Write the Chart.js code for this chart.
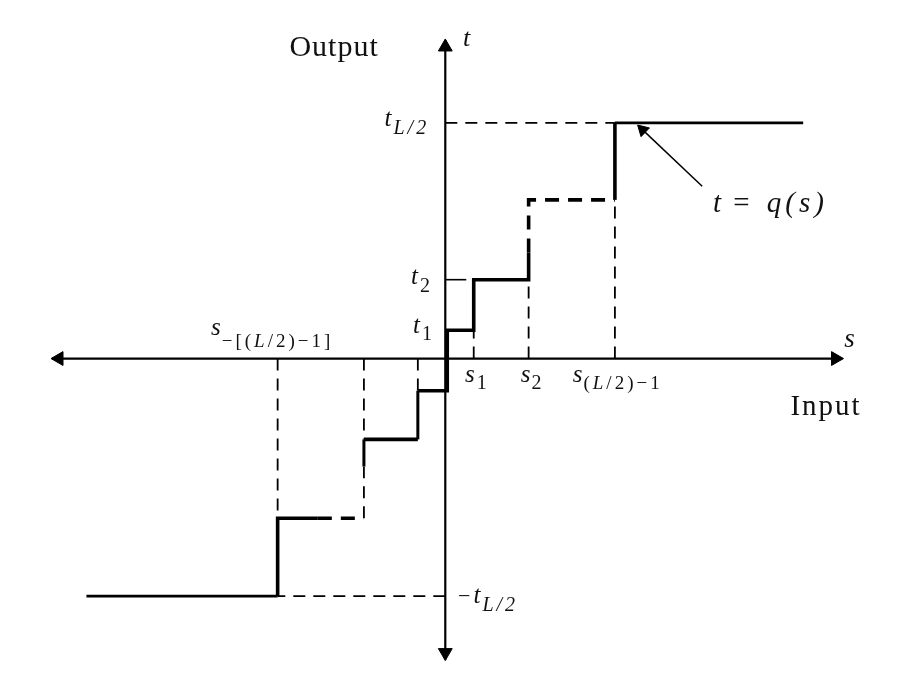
<!DOCTYPE html>
<html><head><meta charset="utf-8">
<script src="https://cdn.jsdelivr.net/npm/chart.js@4.4.0/dist/chart.umd.min.js"></script>
<style>html,body{margin:0;padding:0;background:#fff;} canvas{display:block;}</style>
</head><body>
<canvas id="c" width="920" height="684"></canvas>
<script>
// ---- data (schematic units: input s on x, output t on y) ----
// decision thresholds s_-[(L/2)-1] ... s_(L/2)-1
const thresholds = [-171, -83, -28, 2, 29, 85, 173];
// reconstruction levels -t_L/2 ... t_L/2
const levels = [-244, -164, -83, -33, 29, 81, 163, 242];
// extent of the drawn input range
const inputEnds = [-366, 365];
// points where the drawing of the staircase switches between solid and dashed (omitted steps)
const breakLowLevelX = -130;   // on level levels[1]
const breakLowRiserY = -111;   // on riser at thresholds[1]
const breakHighRiserY = 109;   // on riser at thresholds[5]
// axis extents (arrow tips)
const sAxis = [-401, 405];
const tAxis = [-309, 327];
// annotation arrow t = q(s)
const annotFrom = {x: 262, y: 177};
const annotTo = {x: 197, y: 239};

// ---- build staircase ----
const stair = [{x: inputEnds[0], y: levels[0]}];
for (let i = 0; i < thresholds.length; i++) {
  stair.push({x: thresholds[i], y: levels[i]});
  if (i === 1) stair.push({x: thresholds[i], y: breakLowRiserY});
  if (i === 5) stair.push({x: thresholds[i], y: breakHighRiserY});
  stair.push({x: thresholds[i], y: levels[i + 1]});
  if (i === 0) stair.push({x: breakLowLevelX, y: levels[1]});
}
stair.push({x: inputEnds[1], y: levels[levels.length - 1]});

// segment styles along the staircase
const W = {solid3: [2.6, []], solid4: [3.6, []], riser3: [3.0, []], dashT: [3.6, [14, 9]], dashThin: [1.8, [12, 8]]};
const segStyle = ['solid3','solid4','solid4','dashT','dashThin','riser3','solid4','riser3','solid4','solid4',
                  'solid4','solid4','solid4','solid4','dashT','dashT','solid4','solid3'];

const GUIDE_DASH = [12, 8];
const datasets = [];
// vertical guides from the s axis up/down to the nearest level
thresholds.forEach((s, i) => {
  if (i === 3) return; // threshold sits on the t axis
  const lvl = s < 0 ? levels[i + 1] : levels[i];
  datasets.push({data: [{x: s, y: 0}, {x: s, y: lvl}], borderWidth: 1.8, borderDash: GUIDE_DASH});
});
// horizontal guides
datasets.push({data: [{x: 0, y: levels[7]}, {x: thresholds[6], y: levels[7]}], borderWidth: 1.8, borderDash: GUIDE_DASH});
datasets.push({data: [{x: 0, y: levels[0]}, {x: thresholds[0], y: levels[0]}], borderWidth: 1.8, borderDash: GUIDE_DASH});
datasets.push({data: [{x: 0, y: levels[5]}, {x: thresholds[4], y: levels[5]}], borderWidth: 1.6, borderDash: [21, 20]});
// axes
datasets.push({data: [{x: sAxis[0], y: 0}, {x: sAxis[1], y: 0}], borderWidth: 2.2});
datasets.push({data: [{x: 0, y: tAxis[0]}, {x: 0, y: tAxis[1]}], borderWidth: 2.2});
// staircase t = q(s)
datasets.push({
  data: stair, borderWidth: 3.6, borderJoinStyle: 'miter',
  segment: {
    borderWidth: c => W[segStyle[c.p0DataIndex]][0],
    borderDash: c => W[segStyle[c.p0DataIndex]][1]
  }
});
// annotation arrow line
datasets.push({data: [annotFrom, annotTo], borderWidth: 1.5});
// arrowheads
const ux = annotTo.x - annotFrom.x, uy = annotTo.y - annotFrom.y, ul = Math.hypot(ux, uy);
const rot = Math.atan2(ux, uy) * 180 / Math.PI;
datasets.push({
  showLine: false,
  data: [{x: sAxis[1] - 7, y: 0}, {x: sAxis[0] + 7, y: 0}, {x: 0, y: tAxis[1] - 7}, {x: 0, y: tAxis[0] + 7},
         {x: annotTo.x - 6 * ux / ul, y: annotTo.y - 6 * uy / ul}],
  pointStyle: 'triangle',
  pointRadius: [8, 8, 8, 8, 7],
  pointRotation: [90, 270, 0, 180, rot],
  pointBackgroundColor: '#000', pointBorderColor: '#000', pointBorderWidth: 1
});
datasets.forEach(d => {
  d.borderColor = d.borderColor || '#000';
  if (d.showLine === undefined) { d.showLine = true; d.pointRadius = 0; }
  d.clip = false;
  d.fill = false;
});

// ---- text labels (anchor = left/baseline, in data units) ----
const FONT = '"Liberation Serif", "Times New Roman", serif';
const texts = [
  {x: -159, y: 311, parts: [{t: 'Output', s: 30, ls: 1}]},
  {x: 18, y: 321, parts: [{t: 't', s: 26, i: 1}]},
  {x: -62, y: 239, parts: [{t: 't', s: 25, i: 1}, {t: 'L/2', s: 20, i: 1, dy: 8, dx: 2, ls: 3}]},
  {x: -35, y: 77, parts: [{t: 't', s: 25, i: 1}, {t: '2', s: 20, dy: 8, dx: 2}]},
  {x: -33, y: 26, parts: [{t: 't', s: 25, i: 1}, {t: '1', s: 20, dy: 7, dx: 2}]},
  {x: -239, y: 24, parts: [{t: 's', s: 25, i: 1}, {t: '\u2212[(', s: 19, dy: 12, dx: 1, ls: 3}, {t: 'L', s: 19, i: 1, dy: 12, ls: 3}, {t: '/2)\u22121]', s: 19, dy: 12, ls: 3}]},
  {x: 20, y: -24, parts: [{t: 's', s: 25, i: 1}, {t: '1', s: 20, dy: 7, dx: 2}]},
  {x: 77, y: -24, parts: [{t: 's', s: 25, i: 1}, {t: '2', s: 20, dy: 7, dx: 1}]},
  {x: 130, y: -24, parts: [{t: 's', s: 25, i: 1}, {t: '(', s: 19, dy: 7, dx: 1, ls: 3}, {t: 'L', s: 19, i: 1, dy: 7, ls: 3}, {t: '/2)\u22121', s: 19, dy: 7, ls: 3}]},
  {x: 13, y: -251, parts: [{t: '\u2212', s: 22}, {t: 't', s: 25, i: 1, dx: 3}, {t: 'L/2', s: 20, i: 1, dy: 8, dx: 2, ls: 3}]},
  {x: 273, y: 151, parts: [{t: 't', s: 29, i: 1}, {t: ' = ', s: 29, ls: 5}, {t: 'q(s)', s: 29, i: 1, ls: 4}]},
  {x: 352, y: -58, parts: [{t: 'Input', s: 29, ls: 2}]},
  {x: 407, y: 12, parts: [{t: 's', s: 27, i: 1}]}
];

const textPlugin = {
  id: 'mathText',
  afterDatasetsDraw(chart) {
    const ctx = chart.ctx, xs = chart.scales.x, ys = chart.scales.y;
    ctx.save();
    ctx.fillStyle = '#111';
    ctx.textAlign = 'left';
    ctx.textBaseline = 'alphabetic';
    texts.forEach(l => {
      let cx = xs.getPixelForValue(l.x);
      const by = ys.getPixelForValue(l.y);
      l.parts.forEach(p => {
        ctx.font = (p.i ? 'italic ' : '') + p.s + 'px ' + FONT;
        ctx.letterSpacing = (p.ls || 0) + 'px';
        cx += (p.dx || 0);
        ctx.fillText(p.t, cx, by + (p.dy || 0));
        cx += ctx.measureText(p.t).width;
      });
    });
    ctx.restore();
  }
};

new Chart(document.getElementById('c'), {
  type: 'scatter',
  data: {datasets},
  options: {
    responsive: false, animation: false, devicePixelRatio: 1,
    layout: {padding: 0},
    plugins: {legend: {display: false}, tooltip: {enabled: false}},
    scales: {
      x: {type: 'linear', display: false, min: -445, max: 475},
      y: {type: 'linear', display: false, min: -325, max: 359}
    }
  },
  plugins: [textPlugin]
});
</script>
</body></html>
